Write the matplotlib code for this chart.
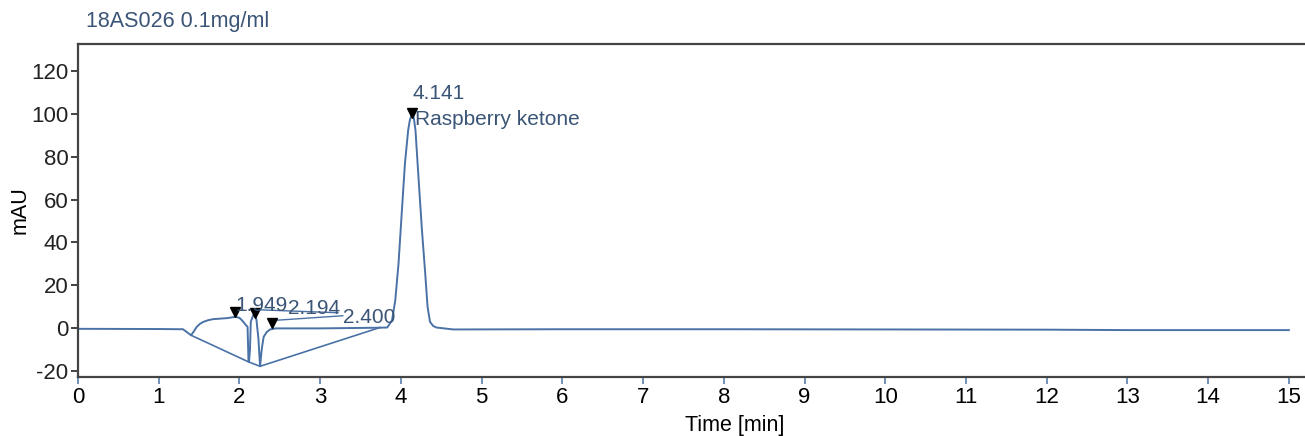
import matplotlib.pyplot as plt

plt.rcParams['font.family'] = ['Liberation Sans', 'DejaVu Sans']
plt.rcParams['axes.unicode_minus'] = False

# chromatogram trace (time in min, signal in mAU)
time_min = [0.0, 1.0, 1.30, 1.40, 1.44, 1.47, 1.51, 1.55, 1.61, 1.67, 1.85, 1.95,
            2.00, 2.03, 2.06, 2.08, 2.10,
            2.112, 2.118, 2.13, 2.14, 2.17, 2.19, 2.21, 2.235, 2.255, 2.27, 2.28,
            2.30, 2.34, 2.38, 2.45, 3.00, 3.70, 3.83, 3.89, 3.93, 3.97, 4.01,
            4.05, 4.09, 4.11, 4.13, 4.145, 4.16, 4.18, 4.22, 4.26, 4.30, 4.33, 4.36,
            4.40, 4.44, 4.65, 6.0, 8.0, 10.0, 12.0, 13.0, 15.0]
signal_mau = [-0.3, -0.4, -0.5, -3.3, -1.2, 0.6, 2.0, 2.9, 3.7, 4.2, 4.7, 5.3,
              4.8, 3.7, 2.4, 1.4, 0.6,
              -15.7, -15.7, -10.0, 3.0, 6.0, 6.5, 4.0, -5.0, -17.8, -12.0, -8.7,
              -4.0, -1.7, -0.6, -0.1, -0.1, 0.2, 0.3, 3.7, 13.0, 30.0, 53.7,
              77.0, 92.5, 97.0, 99.5, 99.8, 98.0, 92.5, 69.0, 46.0, 26.0, 10.0, 3.0,
              1.0, 0.3, -0.6, -0.5, -0.5, -0.6, -0.7, -0.9, -0.9]

# integration baseline drawn under the small peaks
base_time = [1.40, 2.11, 2.255, 3.74]
base_mau = [-3.3, -15.7, -17.8, 0.3]

# peak marks and labels
peak_time = [1.949, 2.194, 2.400, 4.141]
peak_mark = [7.6, 6.9, 2.5, 100.5]
peak_labels = ["1.949", "2.194", "2.400", "4.141"]
label_x = [1.95, 2.60, 3.28, 4.14]
label_y = [8.0, 6.8, 2.6, 107.0]
compound = "Raspberry ketone"

line_col = "#4a72a6"
text_col = "#3b5577"

fig = plt.figure(figsize=(13.05, 4.36), dpi=100)
ax = fig.add_axes([0.0598, 0.1353, 0.9402, 0.764])

ax.plot(time_min, signal_mau, color=line_col, lw=1.4)
ax.plot(base_time, base_mau, color=line_col, lw=1.2)

# leader lines from marks to labels
ax.plot([2.22, 3.22], [8.6, 7.2], color=line_col, lw=1.0)
ax.plot([2.42, 3.28], [3.6, 5.8], color=line_col, lw=1.0)

ax.plot(peak_time, peak_mark, linestyle="none", marker="v", color="black", markersize=7)

for lx, ly, lab in zip(label_x, label_y, peak_labels):
    ax.text(lx, ly, lab, color=text_col, fontsize=15, ha="left", va="baseline")
ax.text(4.18, 95.0, compound, color=text_col, fontsize=15, ha="left", va="baseline")

ax.set_xlim(0, 15.2)
ax.set_ylim(-22.8, 132.7)
ax.set_xticks(range(0, 16))
ax.set_yticks(range(-20, 121, 20))
ax.tick_params(labelsize=16, length=5, width=1.2, pad=2, colors="#222222")
ax.tick_params(axis="x", colors="#5a7ea8", labelcolor="black")

ax.spines["right"].set_visible(False)
for s in ["left", "bottom", "top"]:
    ax.spines[s].set_color("#444444")
    ax.spines[s].set_linewidth(1.6)

ax.set_xlabel("Time [min]", fontsize=15.5)
ax.xaxis.set_label_coords(0.535, -0.115)
ax.set_ylabel("mAU", fontsize=15.5)
ax.yaxis.set_label_coords(-0.039, 0.5)
fig.text(86 / 1305, 1 - 21 / 436, "18AS026 0.1mg/ml", color=text_col, fontsize=15.5,
         ha="left", va="center")

fig.savefig("out.png", dpi=100)
